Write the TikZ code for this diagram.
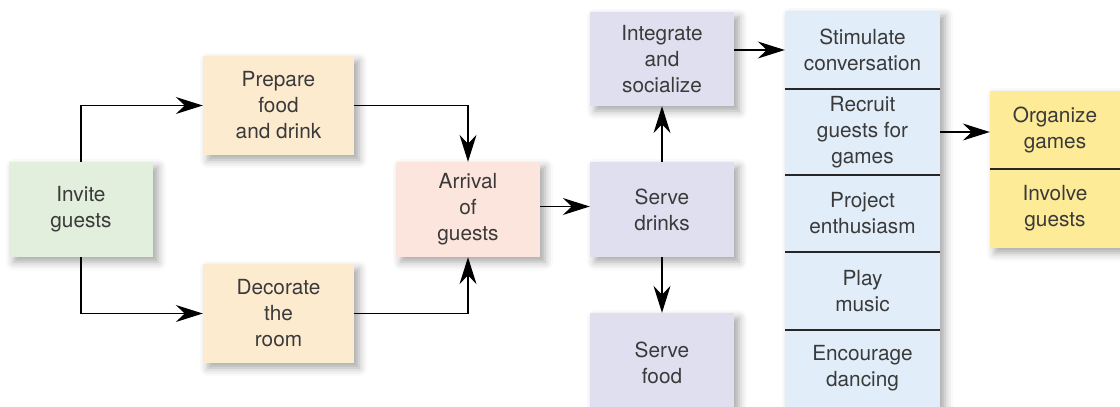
\documentclass[tikz,border=0pt]{standalone}
\usepackage{fontspec}
\setmainfont{TeX Gyre Heros}
\usetikzlibrary{arrows.meta,shadows.blur}

\definecolor{txt}{HTML}{3A3A3A}
\definecolor{cInvite}{HTML}{E3EFDD}
\definecolor{cPrep}{HTML}{FDEBCF}
\definecolor{cArrive}{HTML}{FCE5DC}
\definecolor{cServe}{HTML}{DFDFEF}
\definecolor{cActs}{HTML}{E1EEFA}
\definecolor{cGames}{HTML}{FEEB97}

\tikzset{
  box/.style={fill=#1, text=txt, align=center, inner sep=0pt,
    font=\fontsize{20.8}{26}\selectfont,
    blur shadow={shadow xshift=5pt, shadow yshift=-5pt,
      shadow blur radius=8pt, shadow opacity=35}},
  cell/.style={text=txt, align=center, inner sep=0pt,
    font=\fontsize{20.8}{26}\selectfont},
  flow/.style={line width=1.3pt, black,
    -{Stealth[length=27pt, width=17pt, inset=9pt]}},
  rule/.style={line width=2pt, black!85},
}

\begin{document}
\begin{tikzpicture}[x=1pt, y=-1pt]
\useasboundingbox (0,0) rectangle (1120,407);

% planning stage
\node[box=cInvite, minimum width=144pt, minimum height=95pt] (invite) at (81,209.5) {Invite\\guests};
\node[box=cPrep, minimum width=151pt, minimum height=99pt] (prepare) at (278.5,105.5) {Prepare\\food\\and drink};
\node[box=cPrep, minimum width=151pt, minimum height=99pt] (decorate) at (278.5,313.5) {Decorate\\the\\room};
\node[box=cArrive, minimum width=144pt, minimum height=95pt] (arrival) at (468,209.5) {Arrival\\of\\guests};

% hosting stage
\node[box=cServe, minimum width=144pt, minimum height=94pt] (integrate) at (662,59) {Integrate\\and\\socialize};
\node[box=cServe, minimum width=144pt, minimum height=95pt] (drinks) at (662,209.5) {Serve\\drinks};
\node[box=cServe, minimum width=144pt, minimum height=100pt] (food) at (662,363) {Serve\\food};

% column of party activities
\node[box=cActs, minimum width=155pt, minimum height=406pt] (acts) at (862.5,214) {};
\node[cell, minimum width=155pt, minimum height=78pt] (stim) at (862.5,50) {Stimulate\\conversation};
\node[cell, minimum width=155pt, minimum height=86pt] (recruit) at (862.5,132) {Recruit\\guests for\\games};
\node[cell, minimum width=155pt, minimum height=77pt] (project) at (862.5,213.5) {Project\\enthusiasm};
\node[cell, minimum width=155pt, minimum height=78pt] (play) at (862.5,291) {Play\\music};
\node[cell, minimum width=155pt, minimum height=77pt] (encourage) at (862.5,368.5) {Encourage\\dancing};
\foreach \c in {stim,recruit,project,play}
  \draw[rule] (\c.south west) -- (\c.south east);

% game activities
\node[box=cGames, minimum width=140pt, minimum height=157pt] (games) at (1060,169.5) {};
\node[cell, minimum width=130pt, minimum height=78pt] (organize) at (1055,130) {Organize\\games};
\node[cell, minimum width=130pt, minimum height=79pt] (involve) at (1055,208.5) {Involve\\guests};
\draw[rule] (games.west |- organize.south) -- (games.east |- organize.south);

% connectors
\draw[flow] (invite.north) |- (prepare.west);
\draw[flow] (invite.south) |- (decorate.west);
\draw[flow] (prepare.east) -| (arrival.north);
\draw[flow] (decorate.east) -| (arrival.south);
\draw[flow] ([yshift=3pt]arrival.east) -- ([yshift=3pt]drinks.west);
\draw[flow] (drinks.north) -- (integrate.south);
\draw[flow] (drinks.south) -- (food.north);
\draw[flow] (stim.west -| integrate.east) -- (stim.west);
\draw[flow] (recruit.east) -- (recruit.east -| games.west);
\end{tikzpicture}
\end{document}
